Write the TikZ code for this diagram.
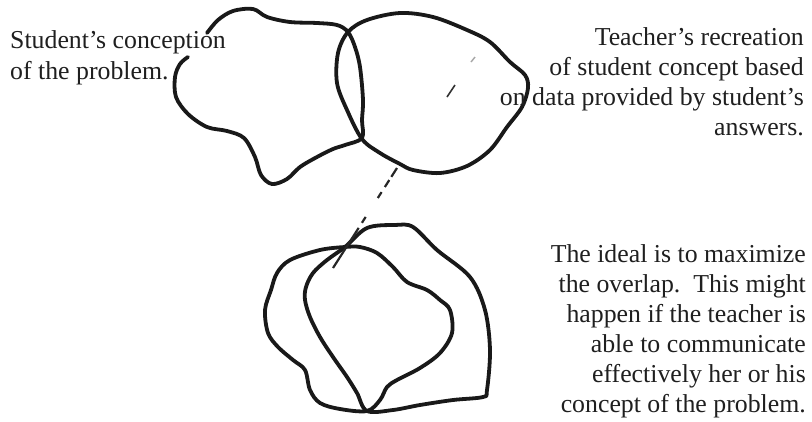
\documentclass[tikz,border=0pt]{standalone}
\usepackage{fontspec}
\setmainfont{Liberation Serif}
\begin{document}
\begin{tikzpicture}[x=1pt,y=-1pt,
  blob/.style={line width=3.8pt, line join=round, line cap=round, black!90},
  label/.style={inner sep=0pt, align=right, font=\fontsize{25.8}{30}\selectfont, text=black!88},
  labelL/.style={inner sep=0pt, align=left, font=\fontsize{25.8}{31}\selectfont, text=black!88},
  trail/.style={line width=2.2pt, black!85, dash pattern=on 10.5pt off 3.8pt on 8.3pt off 6pt on 7pt off 22.5pt on 7pt off 6pt on 60pt}]
\useasboundingbox (0,0) rectangle (812,421);
\fill[white] (0,0) rectangle (812,421);

% top: student's conception (open curve)
\draw[blob] plot[smooth, tension=0.55] coordinates {
  (207,33) (218,20) (233,11) (253,9) (267,17) (290,22) (317,23) (337,25) (348,32)
  (355,47) (360,67) (363,100) (362,120) (362,138) (345,145) (333,149) (317,157)
  (300,167) (287,179) (272,184) (261,175) (255,157) (244,138) (227,131) (207,127)
  (188,114) (176,97) (175,77) (180,64) (188,57)};

% top: teacher's recreation
\draw[blob] plot[smooth cycle, tension=0.55] coordinates {
  (348,32) (367,20) (400,13) (433,17) (467,30) (490,42) (510,62) (525,75) (528,88)
  (522,107) (507,127) (490,150) (467,166) (440,173) (413,170) (400,164) (380,153)
  (362,139) (347,110) (337,83) (338,53)};

% bottom left shape
\draw[blob] plot[smooth cycle, tension=0.55] coordinates {
  (345,247) (320,250) (290,260) (277,273) (271,290) (265,310) (268,333) (278,347)
  (293,360) (305,370) (310,390) (320,403) (340,409) (367,411) (380,400) (387,387)
  (397,380) (420,368) (440,353) (452,333) (450,310) (440,300) (427,290) (407,282)
  (393,267) (377,253) (360,247)};

% bottom right shape
\draw[blob] plot[smooth cycle, tension=0.55] coordinates {
  (345,247) (367,228) (395,225) (413,227) (437,250) (470,277) (485,310) (490,350)
  (487,390) (483,397) (453,400) (420,405) (393,410) (367,411) (357,393) (347,377)
  (333,357) (320,337) (310,317) (305,300) (306,287) (313,273) (327,260)};

% dashed trail between the pairs
\coordinate (t1) at (397,168);
\coordinate (t2) at (333,268);
\draw[trail] (t1) -- (t2);

% stray pencil marks
\coordinate (m1) at (447,97);
\coordinate (m2) at (455,85);
\draw[line width=1.6pt, black!80] (m1) -- (m2);
\coordinate (m3) at (471,62);
\coordinate (m4) at (475,57);
\draw[line width=1.4pt, black!35] (m3) -- (m4);

% texts (base anchor = baseline of the last line)
\node[labelL, anchor=base west] (stud) at (10,79) {Student’s conception\\of the problem.};
\node[label, anchor=base east] (teach) at (804,135) {Teacher’s recreation\\of student concept based\\on data provided by student’s\\answers.};
\node[label, anchor=base east] (ideal) at (806,412) {The ideal is to maximize\\the overlap.\ \ This might\\happen if the teacher is\\able to communicate\\effectively her or his\\concept of the problem.};
\end{tikzpicture}
\end{document}
